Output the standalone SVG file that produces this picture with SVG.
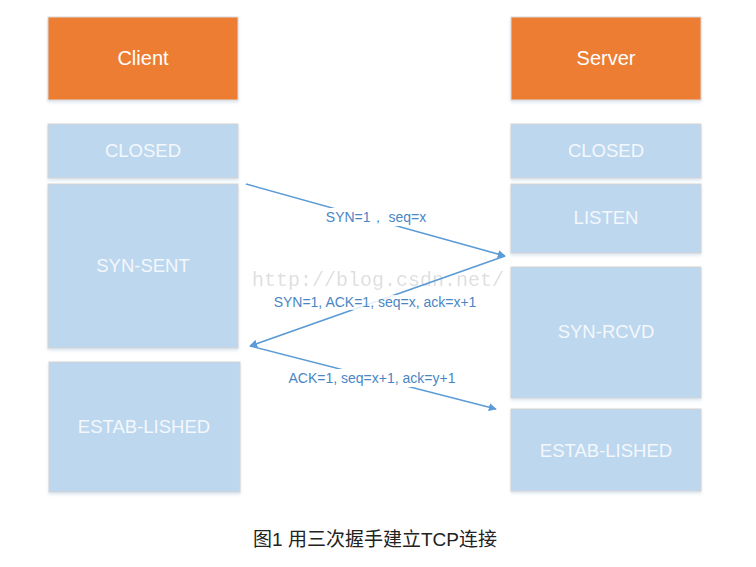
<svg xmlns="http://www.w3.org/2000/svg" width="756" height="567" viewBox="0 0 756 567">
<defs>
<marker id="ah" viewBox="0 0 10 10" refX="9" refY="5" markerWidth="8" markerHeight="8" markerUnits="userSpaceOnUse" orient="auto">
<path d="M0,0 L10,5 L0,10 z" fill="#5B9BD5"/>
</marker>
<filter id="sh" x="-5%" y="-5%" width="110%" height="115%">
<feDropShadow dx="0" dy="2" stdDeviation="1.5" flood-color="#9db8d4" flood-opacity="0.35"/>
</filter>
</defs>
<style>
.hdr{fill:#ED7D31;stroke:#d9d9d9;stroke-width:1;filter:url(#sh)}
.st{fill:#BDD7EE;stroke:#d4d4d4;stroke-width:1;filter:url(#sh)}
.ht{font-family:"Liberation Sans",Arial,sans-serif;font-size:20px;fill:#ffffff;text-anchor:middle}
.tt{font-family:"Liberation Sans",Arial,sans-serif;font-size:18.5px;fill:#f4f8fc;text-anchor:middle}
.ln{stroke:#5B9BD5;stroke-width:1.6;fill:none;marker-end:url(#ah)}
.lb{font-family:"Liberation Sans",Arial,sans-serif;font-size:14px;fill:#4A86C5;text-anchor:middle}
.wm{font-family:"Liberation Mono","Courier New",monospace;font-size:20px;fill:#d8d8d8;opacity:0.8}
</style>
<rect width="756" height="567" fill="#ffffff"/>
<g id="client"><rect class="hdr" x="48" y="17" width="190" height="83"/><text class="ht" x="143" y="65">Client</text></g>
<g id="server"><rect class="hdr" x="511" y="17" width="190" height="83"/><text class="ht" x="606" y="65">Server</text></g>
<g id="c-closed"><rect class="st" x="48" y="124" width="190" height="54"/><text class="tt" x="143" y="157">CLOSED</text></g>
<g id="c-synsent"><rect class="st" x="48" y="184" width="190" height="164"/><text class="tt" x="143" y="272">SYN-SENT</text></g>
<g id="c-estab"><rect class="st" x="49" y="362" width="191" height="130"/><text class="tt" x="144" y="433">ESTAB-LISHED</text></g>
<g id="s-closed"><rect class="st" x="511" y="124" width="190" height="54"/><text class="tt" x="606" y="157">CLOSED</text></g>
<g id="s-listen"><rect class="st" x="511" y="184" width="190" height="69"/><text class="tt" x="606" y="224">LISTEN</text></g>
<g id="s-synrcvd"><rect class="st" x="511" y="267" width="190" height="131"/><text class="tt" x="606" y="338">SYN-RCVD</text></g>
<g id="s-estab"><rect class="st" x="511" y="409" width="190" height="82"/><text class="tt" x="606" y="457">ESTAB-LISHED</text></g>
<text class="wm" x="252" y="286">http://blog.csdn.net/</text>
<g id="connectors">
<line class="ln" x1="246" y1="184" x2="505" y2="256"/>
<line class="ln" x1="505" y1="256" x2="250" y2="346"/>
<line class="ln" x1="250" y1="346" x2="496" y2="409"/>
<rect x="322" y="208" width="108" height="18" fill="#ffffff"/>
<rect x="268" y="295" width="214" height="15" fill="#ffffff" opacity="0.85"/>
<rect x="283" y="369" width="178" height="18" fill="#ffffff"/>
<text class="lb" x="376" y="222">SYN=1， seq=x</text>
<text class="lb" x="375" y="307">SYN=1, ACK=1, seq=x, ack=x+1</text>
<text class="lb" x="372" y="383">ACK=1, seq=x+1, ack=y+1</text>
</g>
<text x="375" y="546" font-family="'Liberation Sans','Noto Sans CJK SC',sans-serif" font-size="19" fill="#222222" text-anchor="middle">图1 用三次握手建立TCP连接</text>
</svg>
